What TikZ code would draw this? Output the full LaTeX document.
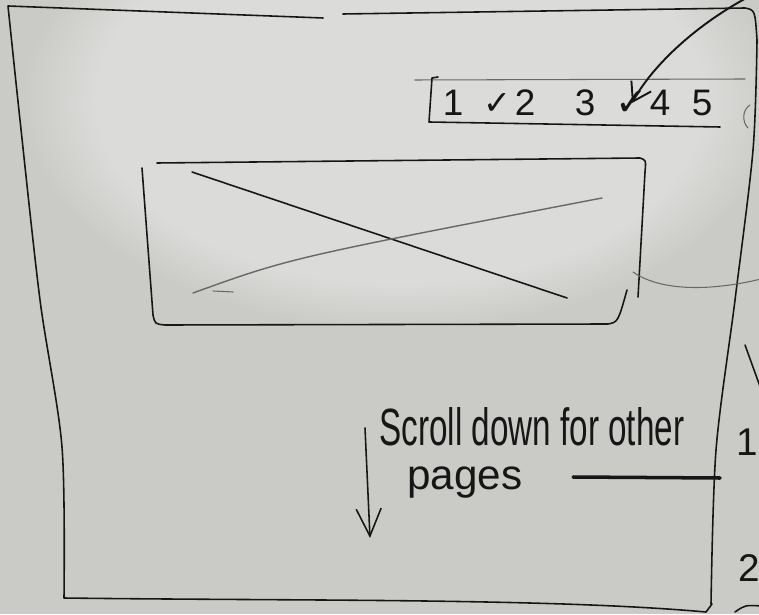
\documentclass[tikz,border=0pt]{standalone}
\usepackage{fontspec}
\setmainfont{Liberation Sans}
\newfontfamily\ticksymbol{DejaVu Sans}
\usetikzlibrary{arrows.meta,positioning,fadings}
\definecolor{board}{RGB}{202,203,199}
\definecolor{glare}{RGB}{219,220,217}
\definecolor{ink}{RGB}{22,22,22}

\begin{document}
\begin{tikzpicture}[x=0.02cm, y=-0.02cm, >={Straight Barb[length=3.5mm, width=4.5mm]},
  pen/.style={draw=ink, line width=0.9pt, line cap=round, line join=round},
  faint/.style={draw=ink!65, line width=0.6pt, line cap=round},
  digit/.style={font=\fontsize{21}{21}\selectfont, text=ink, inner sep=0pt},
  tickmark/.style={font=\ticksymbol\fontsize{19}{19}\selectfont, text=ink, inner sep=0pt},
  hand/.style={text=ink, inner sep=0pt, anchor=base west}]
  \useasboundingbox (0,0) rectangle (759,614);
  \clip (0,0) rectangle (759,614);
  \fill[board] (0,0) rectangle (759,614);
  \fill[glare, path fading=circle with fuzzy edge 20 percent] (400,100) ellipse [x radius=380, y radius=230];

  % outer page frame
  \draw[pen] (323,18) -- (8,6) plot[smooth] coordinates {(8,6) (20,120) (40,300) (62,447) (64,598)}
    .. controls (300,601) and (550,598) .. (706,612) -- (712,604);
  \draw[pen] (343,14) -- (745,8) .. controls (755,10) .. (757,40)
    plot[smooth] coordinates {(757,40) (753,150) (735,300) (716,450) (711,604)};

  % page tabs
  \draw[faint] (415,80) -- (745,79);
  \draw[pen] (438,77) -- (432,78) -- (429,122) -- (720,127);
  \node[digit] (d1) at (453,103) {1};
  \node[tickmark] (tk2) at (497,104) {✓};
  \node[digit] (d2) at (525,103) {2};
  \node[digit] (d3) at (585,103) {3};
  \node[tickmark, font=\ticksymbol\fontsize{22}{22}\selectfont] (tk4) at (632,103) {✓};
  \node[digit] (d4) at (660,103) {4};
  \node[digit] (d5) at (702,103) {5};
  \draw[faint] (750,105) .. controls (742,110) and (742,122) .. (748,128);
  \coordinate (from) at (750,-4);
  \draw[pen, line width=1.1pt, ->] (from) .. controls (690,28) and (650,70) .. (tk4.center);

  % image placeholder
  \draw[pen] (157,163) -- (640,158) .. controls (646,160) .. (645,172) -- (638,297);
  \draw[pen] (142,168) -- (153,315) .. controls (155,324) .. (165,325) -- (608,324)
    .. controls (618,322) .. (627,290);
  \draw[pen] (192,172) -- (567,298);
  \draw[faint, line width=0.8pt] (193,293) .. controls (290,258) .. (602,198);
  \draw[faint] (213,291) -- (233,292);
  \draw[faint] (633,272) .. controls (660,291) and (710,292) .. (765,278);

  % scroll hint
  \node[hand] (scroll) at (379,445) {\resizebox{6.1cm}{0.76cm}{Scroll down for other}};
  \node[hand] (pages) at (407,489) {\resizebox{2.3cm}{!}{pages}};
  \draw[pen, line width=2pt] (573,477) -- (720,478);
  \coordinate (arrtop) at (365,428);
  \coordinate (arrbot) at (370,538);
  \draw[pen, ->, >={Straight Barb[length=5.5mm, width=5mm]}] (arrtop) -- (arrbot);

  % next sheet, cut off at the edge
  \draw[pen] (745,345) -- (762,392);
  \node[digit, font=\fontsize{22}{22}\selectfont] (r1) at (747,442) {1};
  \node[digit, font=\fontsize{22}{22}\selectfont] (r2) at (749,568) {2};
  \draw[pen] (735,612) .. controls (745,605) .. (762,606);
\end{tikzpicture}
\end{document}
